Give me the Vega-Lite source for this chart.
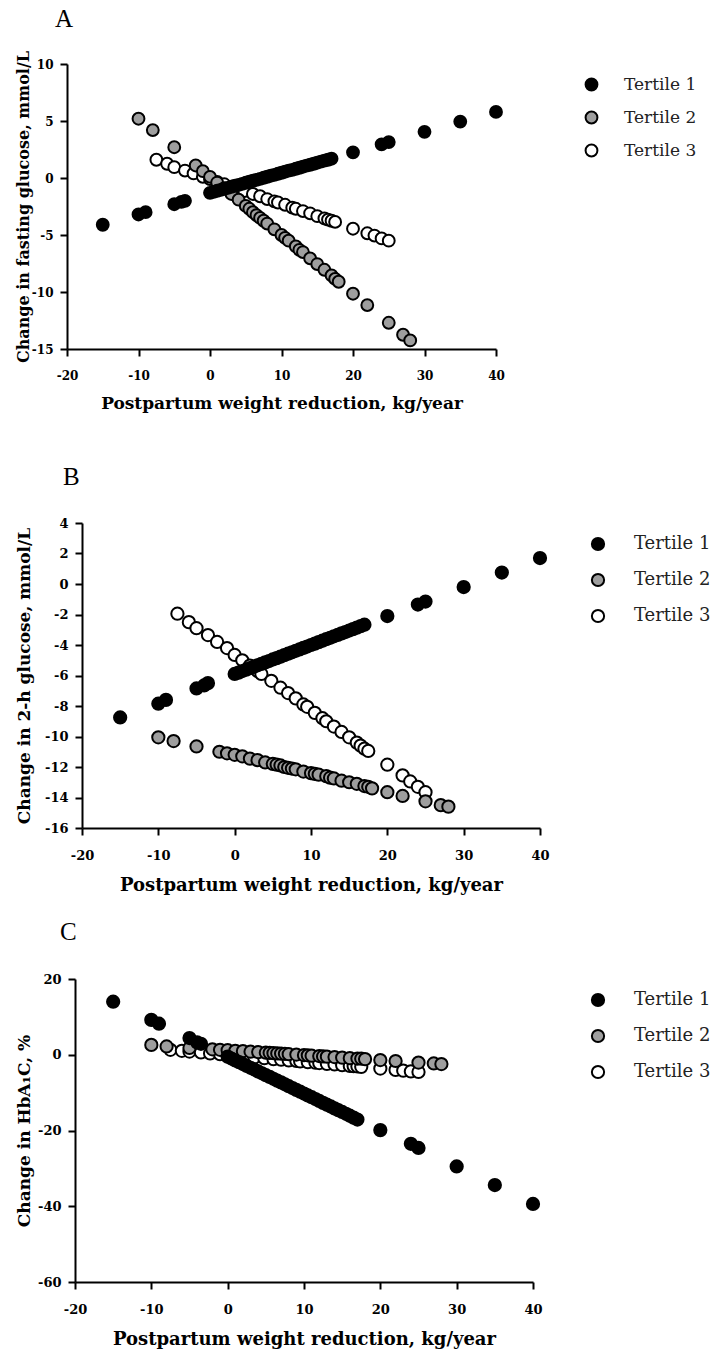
{
  "$schema": "https://vega.github.io/schema/vega-lite/v6.json",
  "padding": {"left": 5, "top": 7, "right": 5, "bottom": 5},
  "background": "white",
  "config": {
    "view": {"stroke": null},
    "font": "DejaVu Serif",
    "axis": {
      "grid": false,
      "domainColor": "black",
      "domainWidth": 2,
      "tickColor": "black",
      "tickWidth": 2,
      "tickSize": 7,
      "labelFont": "DejaVu Serif",
      "labelFontWeight": "bold",
      "labelColor": "black",
      "titleFont": "DejaVu Serif",
      "titleFontWeight": "bold",
      "titleColor": "black",
      "labelFlush": false,
      "labelExpr": "replace(datum.label, '−', '-')"
    },
    "title": {"font": "Liberation Serif", "fontWeight": "normal", "fontSize": 25, "color": "black", "anchor": "start", "frame": "group", "baseline": "alphabetic"}
  },
  "datasets": {
    "a": [
      {"t": "Tertile 3", "x": -7.5, "y": 1.6}, {"t": "Tertile 3", "x": -6, "y": 1.25}, {"t": "Tertile 3", "x": -5, "y": 0.95}, {"t": "Tertile 3", "x": -3.5, "y": 0.65}, {"t": "Tertile 3", "x": -2.3, "y": 0.4}, {"t": "Tertile 3", "x": -1, "y": 0.1}, {"t": "Tertile 3", "x": 0, "y": -0.1}, {"t": "Tertile 3", "x": 1, "y": -0.35}, {"t": "Tertile 3", "x": 2, "y": -0.55}, {"t": "Tertile 3", "x": 3, "y": -0.75}, {"t": "Tertile 3", "x": 3.5, "y": -0.85}, {"t": "Tertile 3", "x": 4.8, "y": -1.15}, {"t": "Tertile 3", "x": 6, "y": -1.4}, {"t": "Tertile 3", "x": 7, "y": -1.6}, {"t": "Tertile 3", "x": 8, "y": -1.85}, {"t": "Tertile 3", "x": 9, "y": -2.05}, {"t": "Tertile 3", "x": 9.5, "y": -2.15}, {"t": "Tertile 3", "x": 10.5, "y": -2.35}, {"t": "Tertile 3", "x": 11.5, "y": -2.6}, {"t": "Tertile 3", "x": 12, "y": -2.7}, {"t": "Tertile 3", "x": 13, "y": -2.9}, {"t": "Tertile 3", "x": 14, "y": -3.1}, {"t": "Tertile 3", "x": 15, "y": -3.35}, {"t": "Tertile 3", "x": 16, "y": -3.55}, {"t": "Tertile 3", "x": 16.5, "y": -3.65}, {"t": "Tertile 3", "x": 17, "y": -3.75}, {"t": "Tertile 3", "x": 17.5, "y": -3.85}, {"t": "Tertile 3", "x": 20, "y": -4.45}, {"t": "Tertile 3", "x": 22, "y": -4.85}, {"t": "Tertile 3", "x": 23, "y": -5.05}, {"t": "Tertile 3", "x": 24, "y": -5.3}, {"t": "Tertile 3", "x": 25, "y": -5.5},
      {"t": "Tertile 2", "x": -10, "y": 5.2}, {"t": "Tertile 2", "x": -8, "y": 4.2}, {"t": "Tertile 2", "x": -5, "y": 2.7}, {"t": "Tertile 2", "x": -2, "y": 1.1}, {"t": "Tertile 2", "x": -1, "y": 0.6}, {"t": "Tertile 2", "x": 0, "y": 0.1}, {"t": "Tertile 2", "x": 1, "y": -0.4}, {"t": "Tertile 2", "x": 2, "y": -0.9}, {"t": "Tertile 2", "x": 3, "y": -1.4}, {"t": "Tertile 2", "x": 4, "y": -1.9}, {"t": "Tertile 2", "x": 5, "y": -2.45}, {"t": "Tertile 2", "x": 5.5, "y": -2.7}, {"t": "Tertile 2", "x": 6, "y": -3.0}, {"t": "Tertile 2", "x": 6.5, "y": -3.25}, {"t": "Tertile 2", "x": 7, "y": -3.5}, {"t": "Tertile 2", "x": 7.5, "y": -3.75}, {"t": "Tertile 2", "x": 8, "y": -4.0}, {"t": "Tertile 2", "x": 9, "y": -4.5}, {"t": "Tertile 2", "x": 10, "y": -5.0}, {"t": "Tertile 2", "x": 10.5, "y": -5.25}, {"t": "Tertile 2", "x": 11, "y": -5.5}, {"t": "Tertile 2", "x": 12, "y": -6.0}, {"t": "Tertile 2", "x": 12.5, "y": -6.3}, {"t": "Tertile 2", "x": 13, "y": -6.5}, {"t": "Tertile 2", "x": 14, "y": -7.05}, {"t": "Tertile 2", "x": 15, "y": -7.55}, {"t": "Tertile 2", "x": 16, "y": -8.05}, {"t": "Tertile 2", "x": 17, "y": -8.55}, {"t": "Tertile 2", "x": 17.5, "y": -8.85}, {"t": "Tertile 2", "x": 18, "y": -9.1}, {"t": "Tertile 2", "x": 20, "y": -10.15}, {"t": "Tertile 2", "x": 22, "y": -11.15}, {"t": "Tertile 2", "x": 25, "y": -12.7}, {"t": "Tertile 2", "x": 27, "y": -13.75}, {"t": "Tertile 2", "x": 28, "y": -14.25},
      {"t": "Tertile 1", "x": -15, "y": -4.1}, {"t": "Tertile 1", "x": -10, "y": -3.2}, {"t": "Tertile 1", "x": -9, "y": -3.0}, {"t": "Tertile 1", "x": -5, "y": -2.3}, {"t": "Tertile 1", "x": -4, "y": -2.1}, {"t": "Tertile 1", "x": -3.5, "y": -2.0},
      {"t": "Tertile 1", "x": 0, "y": -1.3}, {"t": "Tertile 1", "x": 0.5, "y": -1.21}, {"t": "Tertile 1", "x": 1, "y": -1.12}, {"t": "Tertile 1", "x": 1.5, "y": -1.04}, {"t": "Tertile 1", "x": 2, "y": -0.95}, {"t": "Tertile 1", "x": 2.5, "y": -0.86}, {"t": "Tertile 1", "x": 3, "y": -0.77}, {"t": "Tertile 1", "x": 3.5, "y": -0.68}, {"t": "Tertile 1", "x": 4, "y": -0.6}, {"t": "Tertile 1", "x": 4.5, "y": -0.51}, {"t": "Tertile 1", "x": 5, "y": -0.42}, {"t": "Tertile 1", "x": 5.5, "y": -0.33}, {"t": "Tertile 1", "x": 6, "y": -0.24}, {"t": "Tertile 1", "x": 6.5, "y": -0.16}, {"t": "Tertile 1", "x": 7, "y": -0.07}, {"t": "Tertile 1", "x": 7.5, "y": 0.02}, {"t": "Tertile 1", "x": 8, "y": 0.11}, {"t": "Tertile 1", "x": 8.5, "y": 0.2}, {"t": "Tertile 1", "x": 9, "y": 0.28}, {"t": "Tertile 1", "x": 9.5, "y": 0.37}, {"t": "Tertile 1", "x": 10, "y": 0.46}, {"t": "Tertile 1", "x": 10.5, "y": 0.55}, {"t": "Tertile 1", "x": 11, "y": 0.64}, {"t": "Tertile 1", "x": 11.5, "y": 0.72}, {"t": "Tertile 1", "x": 12, "y": 0.81}, {"t": "Tertile 1", "x": 12.5, "y": 0.9}, {"t": "Tertile 1", "x": 13, "y": 0.99}, {"t": "Tertile 1", "x": 13.5, "y": 1.08}, {"t": "Tertile 1", "x": 14, "y": 1.16}, {"t": "Tertile 1", "x": 14.5, "y": 1.25}, {"t": "Tertile 1", "x": 15, "y": 1.34}, {"t": "Tertile 1", "x": 15.5, "y": 1.43}, {"t": "Tertile 1", "x": 16, "y": 1.52}, {"t": "Tertile 1", "x": 16.5, "y": 1.6}, {"t": "Tertile 1", "x": 17, "y": 1.69},
      {"t": "Tertile 1", "x": 20, "y": 2.25}, {"t": "Tertile 1", "x": 24, "y": 2.95}, {"t": "Tertile 1", "x": 25, "y": 3.15}, {"t": "Tertile 1", "x": 30, "y": 4.05}, {"t": "Tertile 1", "x": 35, "y": 4.95}, {"t": "Tertile 1", "x": 40, "y": 5.8}
    ],
    "b": [
      {"t": "Tertile 3", "x": -7.5, "y": -1.95}, {"t": "Tertile 3", "x": -6, "y": -2.5}, {"t": "Tertile 3", "x": -5, "y": -2.9}, {"t": "Tertile 3", "x": -3.5, "y": -3.35}, {"t": "Tertile 3", "x": -2.3, "y": -3.8}, {"t": "Tertile 3", "x": -1, "y": -4.2}, {"t": "Tertile 3", "x": 0, "y": -4.65}, {"t": "Tertile 3", "x": 1, "y": -5.0}, {"t": "Tertile 3", "x": 2, "y": -5.35}, {"t": "Tertile 3", "x": 3, "y": -5.7}, {"t": "Tertile 3", "x": 3.5, "y": -5.9}, {"t": "Tertile 3", "x": 4.8, "y": -6.35}, {"t": "Tertile 3", "x": 6, "y": -6.8}, {"t": "Tertile 3", "x": 7, "y": -7.15}, {"t": "Tertile 3", "x": 8, "y": -7.5}, {"t": "Tertile 3", "x": 9, "y": -7.9}, {"t": "Tertile 3", "x": 9.5, "y": -8.05}, {"t": "Tertile 3", "x": 10.5, "y": -8.45}, {"t": "Tertile 3", "x": 11.5, "y": -8.8}, {"t": "Tertile 3", "x": 12, "y": -9.0}, {"t": "Tertile 3", "x": 13, "y": -9.35}, {"t": "Tertile 3", "x": 14, "y": -9.7}, {"t": "Tertile 3", "x": 15, "y": -10.05}, {"t": "Tertile 3", "x": 16, "y": -10.4}, {"t": "Tertile 3", "x": 16.5, "y": -10.6}, {"t": "Tertile 3", "x": 17, "y": -10.8}, {"t": "Tertile 3", "x": 17.5, "y": -10.95}, {"t": "Tertile 3", "x": 20, "y": -11.85}, {"t": "Tertile 3", "x": 22, "y": -12.55}, {"t": "Tertile 3", "x": 23, "y": -12.95}, {"t": "Tertile 3", "x": 24, "y": -13.3}, {"t": "Tertile 3", "x": 25, "y": -13.65},
      {"t": "Tertile 2", "x": -10, "y": -10.05}, {"t": "Tertile 2", "x": -8, "y": -10.3}, {"t": "Tertile 2", "x": -5, "y": -10.65}, {"t": "Tertile 2", "x": -2, "y": -11.0}, {"t": "Tertile 2", "x": -1, "y": -11.1}, {"t": "Tertile 2", "x": 0, "y": -11.2}, {"t": "Tertile 2", "x": 1, "y": -11.3}, {"t": "Tertile 2", "x": 2, "y": -11.45}, {"t": "Tertile 2", "x": 3, "y": -11.55}, {"t": "Tertile 2", "x": 4, "y": -11.7}, {"t": "Tertile 2", "x": 5, "y": -11.8}, {"t": "Tertile 2", "x": 5.5, "y": -11.85}, {"t": "Tertile 2", "x": 6, "y": -11.9}, {"t": "Tertile 2", "x": 6.5, "y": -12.0}, {"t": "Tertile 2", "x": 7, "y": -12.05}, {"t": "Tertile 2", "x": 7.5, "y": -12.1}, {"t": "Tertile 2", "x": 8, "y": -12.15}, {"t": "Tertile 2", "x": 9, "y": -12.3}, {"t": "Tertile 2", "x": 10, "y": -12.4}, {"t": "Tertile 2", "x": 10.5, "y": -12.45}, {"t": "Tertile 2", "x": 11, "y": -12.5}, {"t": "Tertile 2", "x": 12, "y": -12.6}, {"t": "Tertile 2", "x": 12.5, "y": -12.7}, {"t": "Tertile 2", "x": 13, "y": -12.75}, {"t": "Tertile 2", "x": 14, "y": -12.9}, {"t": "Tertile 2", "x": 15, "y": -13.0}, {"t": "Tertile 2", "x": 16, "y": -13.1}, {"t": "Tertile 2", "x": 17, "y": -13.25}, {"t": "Tertile 2", "x": 17.5, "y": -13.3}, {"t": "Tertile 2", "x": 18, "y": -13.4}, {"t": "Tertile 2", "x": 20, "y": -13.65}, {"t": "Tertile 2", "x": 22, "y": -13.9}, {"t": "Tertile 2", "x": 25, "y": -14.25}, {"t": "Tertile 2", "x": 27, "y": -14.5}, {"t": "Tertile 2", "x": 28, "y": -14.6},
      {"t": "Tertile 1", "x": -15, "y": -8.75}, {"t": "Tertile 1", "x": -10, "y": -7.85}, {"t": "Tertile 1", "x": -9, "y": -7.6}, {"t": "Tertile 1", "x": -5, "y": -6.85}, {"t": "Tertile 1", "x": -4, "y": -6.65}, {"t": "Tertile 1", "x": -3.5, "y": -6.5},
      {"t": "Tertile 1", "x": 0, "y": -5.9}, {"t": "Tertile 1", "x": 0.5, "y": -5.81}, {"t": "Tertile 1", "x": 1, "y": -5.71}, {"t": "Tertile 1", "x": 1.5, "y": -5.62}, {"t": "Tertile 1", "x": 2, "y": -5.52}, {"t": "Tertile 1", "x": 2.5, "y": -5.43}, {"t": "Tertile 1", "x": 3, "y": -5.33}, {"t": "Tertile 1", "x": 3.5, "y": -5.24}, {"t": "Tertile 1", "x": 4, "y": -5.14}, {"t": "Tertile 1", "x": 4.5, "y": -5.05}, {"t": "Tertile 1", "x": 5, "y": -4.95}, {"t": "Tertile 1", "x": 5.5, "y": -4.86}, {"t": "Tertile 1", "x": 6, "y": -4.76}, {"t": "Tertile 1", "x": 6.5, "y": -4.67}, {"t": "Tertile 1", "x": 7, "y": -4.57}, {"t": "Tertile 1", "x": 7.5, "y": -4.48}, {"t": "Tertile 1", "x": 8, "y": -4.38}, {"t": "Tertile 1", "x": 8.5, "y": -4.29}, {"t": "Tertile 1", "x": 9, "y": -4.19}, {"t": "Tertile 1", "x": 9.5, "y": -4.1}, {"t": "Tertile 1", "x": 10, "y": -4.0}, {"t": "Tertile 1", "x": 10.5, "y": -3.91}, {"t": "Tertile 1", "x": 11, "y": -3.81}, {"t": "Tertile 1", "x": 11.5, "y": -3.72}, {"t": "Tertile 1", "x": 12, "y": -3.62}, {"t": "Tertile 1", "x": 12.5, "y": -3.53}, {"t": "Tertile 1", "x": 13, "y": -3.43}, {"t": "Tertile 1", "x": 13.5, "y": -3.34}, {"t": "Tertile 1", "x": 14, "y": -3.24}, {"t": "Tertile 1", "x": 14.5, "y": -3.15}, {"t": "Tertile 1", "x": 15, "y": -3.05}, {"t": "Tertile 1", "x": 15.5, "y": -2.96}, {"t": "Tertile 1", "x": 16, "y": -2.86}, {"t": "Tertile 1", "x": 16.5, "y": -2.77}, {"t": "Tertile 1", "x": 17, "y": -2.67},
      {"t": "Tertile 1", "x": 20, "y": -2.1}, {"t": "Tertile 1", "x": 24, "y": -1.35}, {"t": "Tertile 1", "x": 25, "y": -1.15}, {"t": "Tertile 1", "x": 30, "y": -0.2}, {"t": "Tertile 1", "x": 35, "y": 0.75}, {"t": "Tertile 1", "x": 40, "y": 1.7}
    ],
    "c": [
      {"t": "Tertile 3", "x": -7.5, "y": 1.3}, {"t": "Tertile 3", "x": -6, "y": 1.05}, {"t": "Tertile 3", "x": -5, "y": 0.85}, {"t": "Tertile 3", "x": -3.5, "y": 0.6}, {"t": "Tertile 3", "x": -2.3, "y": 0.35}, {"t": "Tertile 3", "x": -1, "y": 0.15}, {"t": "Tertile 3", "x": 0, "y": -0.05}, {"t": "Tertile 3", "x": 1, "y": -0.25}, {"t": "Tertile 3", "x": 2, "y": -0.4}, {"t": "Tertile 3", "x": 3, "y": -0.6}, {"t": "Tertile 3", "x": 3.5, "y": -0.7}, {"t": "Tertile 3", "x": 4.8, "y": -0.9}, {"t": "Tertile 3", "x": 6, "y": -1.15}, {"t": "Tertile 3", "x": 7, "y": -1.3}, {"t": "Tertile 3", "x": 8, "y": -1.5}, {"t": "Tertile 3", "x": 9, "y": -1.65}, {"t": "Tertile 3", "x": 9.5, "y": -1.75}, {"t": "Tertile 3", "x": 10.5, "y": -1.95}, {"t": "Tertile 3", "x": 11.5, "y": -2.1}, {"t": "Tertile 3", "x": 12, "y": -2.2}, {"t": "Tertile 3", "x": 13, "y": -2.4}, {"t": "Tertile 3", "x": 14, "y": -2.55}, {"t": "Tertile 3", "x": 15, "y": -2.75}, {"t": "Tertile 3", "x": 16, "y": -2.95}, {"t": "Tertile 3", "x": 16.5, "y": -3.0}, {"t": "Tertile 3", "x": 17, "y": -3.1}, {"t": "Tertile 3", "x": 17.5, "y": -3.2}, {"t": "Tertile 3", "x": 20, "y": -3.65}, {"t": "Tertile 3", "x": 22, "y": -4.0}, {"t": "Tertile 3", "x": 23, "y": -4.2}, {"t": "Tertile 3", "x": 24, "y": -4.4}, {"t": "Tertile 3", "x": 25, "y": -4.55},
      {"t": "Tertile 2", "x": -10, "y": 2.6}, {"t": "Tertile 2", "x": -8, "y": 2.2}, {"t": "Tertile 2", "x": -5, "y": 1.8}, {"t": "Tertile 2", "x": -2, "y": 1.45}, {"t": "Tertile 2", "x": -1, "y": 1.3}, {"t": "Tertile 2", "x": 0, "y": 1.2}, {"t": "Tertile 2", "x": 1, "y": 1.05}, {"t": "Tertile 2", "x": 2, "y": 0.95}, {"t": "Tertile 2", "x": 3, "y": 0.8}, {"t": "Tertile 2", "x": 4, "y": 0.7}, {"t": "Tertile 2", "x": 5, "y": 0.55}, {"t": "Tertile 2", "x": 5.5, "y": 0.5}, {"t": "Tertile 2", "x": 6, "y": 0.4}, {"t": "Tertile 2", "x": 6.5, "y": 0.35}, {"t": "Tertile 2", "x": 7, "y": 0.3}, {"t": "Tertile 2", "x": 7.5, "y": 0.25}, {"t": "Tertile 2", "x": 8, "y": 0.15}, {"t": "Tertile 2", "x": 9, "y": 0.05}, {"t": "Tertile 2", "x": 10, "y": -0.1}, {"t": "Tertile 2", "x": 10.5, "y": -0.15}, {"t": "Tertile 2", "x": 11, "y": -0.25}, {"t": "Tertile 2", "x": 12, "y": -0.35}, {"t": "Tertile 2", "x": 12.5, "y": -0.45}, {"t": "Tertile 2", "x": 13, "y": -0.5}, {"t": "Tertile 2", "x": 14, "y": -0.6}, {"t": "Tertile 2", "x": 15, "y": -0.75}, {"t": "Tertile 2", "x": 16, "y": -0.9}, {"t": "Tertile 2", "x": 17, "y": -1.0}, {"t": "Tertile 2", "x": 17.5, "y": -1.05}, {"t": "Tertile 2", "x": 18, "y": -1.15}, {"t": "Tertile 2", "x": 20, "y": -1.4}, {"t": "Tertile 2", "x": 22, "y": -1.65}, {"t": "Tertile 2", "x": 25, "y": -2.05}, {"t": "Tertile 2", "x": 27, "y": -2.3}, {"t": "Tertile 2", "x": 28, "y": -2.45},
      {"t": "Tertile 1", "x": -15, "y": 14.0}, {"t": "Tertile 1", "x": -10, "y": 9.2}, {"t": "Tertile 1", "x": -9, "y": 8.2}, {"t": "Tertile 1", "x": -5, "y": 4.4}, {"t": "Tertile 1", "x": -4, "y": 3.25}, {"t": "Tertile 1", "x": -3.5, "y": 2.9},
      {"t": "Tertile 1", "x": 0, "y": -0.5}, {"t": "Tertile 1", "x": 0.5, "y": -1.0}, {"t": "Tertile 1", "x": 1, "y": -1.5}, {"t": "Tertile 1", "x": 1.5, "y": -1.95}, {"t": "Tertile 1", "x": 2, "y": -2.45}, {"t": "Tertile 1", "x": 2.5, "y": -2.95}, {"t": "Tertile 1", "x": 3, "y": -3.45}, {"t": "Tertile 1", "x": 3.5, "y": -3.9}, {"t": "Tertile 1", "x": 4, "y": -4.4}, {"t": "Tertile 1", "x": 4.5, "y": -4.9}, {"t": "Tertile 1", "x": 5, "y": -5.4}, {"t": "Tertile 1", "x": 5.5, "y": -5.85}, {"t": "Tertile 1", "x": 6, "y": -6.35}, {"t": "Tertile 1", "x": 6.5, "y": -6.85}, {"t": "Tertile 1", "x": 7, "y": -7.3}, {"t": "Tertile 1", "x": 7.5, "y": -7.8}, {"t": "Tertile 1", "x": 8, "y": -8.3}, {"t": "Tertile 1", "x": 8.5, "y": -8.8}, {"t": "Tertile 1", "x": 9, "y": -9.3}, {"t": "Tertile 1", "x": 9.5, "y": -9.75}, {"t": "Tertile 1", "x": 10, "y": -10.25}, {"t": "Tertile 1", "x": 10.5, "y": -10.75}, {"t": "Tertile 1", "x": 11, "y": -11.2}, {"t": "Tertile 1", "x": 11.5, "y": -11.7}, {"t": "Tertile 1", "x": 12, "y": -12.2}, {"t": "Tertile 1", "x": 12.5, "y": -12.7}, {"t": "Tertile 1", "x": 13, "y": -13.2}, {"t": "Tertile 1", "x": 13.5, "y": -13.65}, {"t": "Tertile 1", "x": 14, "y": -14.15}, {"t": "Tertile 1", "x": 14.5, "y": -14.65}, {"t": "Tertile 1", "x": 15, "y": -15.1}, {"t": "Tertile 1", "x": 15.5, "y": -15.6}, {"t": "Tertile 1", "x": 16, "y": -16.1}, {"t": "Tertile 1", "x": 16.5, "y": -16.6}, {"t": "Tertile 1", "x": 17, "y": -17.1},
      {"t": "Tertile 1", "x": 20, "y": -19.9}, {"t": "Tertile 1", "x": 24, "y": -23.5}, {"t": "Tertile 1", "x": 25, "y": -24.6}, {"t": "Tertile 1", "x": 30, "y": -29.5}, {"t": "Tertile 1", "x": 35, "y": -34.4}, {"t": "Tertile 1", "x": 40, "y": -39.4}
    ]
  },
  "resolve": {"scale": {"x": "independent", "y": "independent", "fill": "independent"}, "legend": {"fill": "independent"}, "axis": {"x": "independent", "y": "independent"}},
  "spacing": 54,
  "vconcat": [
    {
      "spacing": 0,
      "resolve": {"scale": {"x": "independent", "y": "independent", "fill": "independent"}, "legend": {"fill": "independent"}},
      "hconcat": [
        {"width": 10, "height": 5, "data": {"values": []}, "mark": "point"},
        {
          "width": 429, "height": 285,
          "title": {"text": "A", "dx": -12, "offset": 18},
          "data": {"name": "a"},
          "mark": {"type": "point", "shape": "circle", "filled": true, "stroke": "black", "strokeWidth": 2, "size": 140, "opacity": 1, "fillOpacity": 1},
          "encoding": {
            "x": {"field": "x", "type": "quantitative", "scale": {"domain": [-20, 40], "nice": false, "zero": false},
                  "axis": {"title": "Postpartum weight reduction, kg/year", "values": [-20, -10, 0, 10, 20, 30, 40], "labelFontSize": 12, "labelPadding": 14, "titleFontSize": 17, "titlePadding": 14}},
            "y": {"field": "y", "type": "quantitative", "scale": {"domain": [-15, 10], "nice": false, "zero": false},
                  "axis": {"title": "Change in fasting glucose, mmol/L", "values": [-15, -10, -5, 0, 5, 10], "labelFontSize": 12, "labelPadding": 7, "titleFontSize": 16, "titlePadding": 0}},
            "fill": {"field": "t", "type": "nominal",
                     "scale": {"domain": ["Tertile 1", "Tertile 2", "Tertile 3"], "range": ["#000000", "#9e9e9e", "#ffffff"]},
                     "legend": {"title": null, "orient": "none", "legendX": 516, "legendY": 12, "symbolType": "circle", "symbolSize": 140, "symbolStrokeColor": "black", "symbolStrokeWidth": 2, "labelFont": "DejaVu Serif", "labelFontSize": 17, "labelColor": "#222222", "labelOffset": 24, "rowPadding": 12}}
          }
        }
      ]
    },
    {
      "spacing": 26,
      "resolve": {"scale": {"x": "independent", "y": "independent", "fill": "independent"}, "legend": {"fill": "independent"}},
      "vconcat": [
        {
          "spacing": 0,
          "resolve": {"scale": {"x": "independent", "y": "independent", "fill": "independent"}, "legend": {"fill": "independent"}},
          "hconcat": [
            {"width": 10, "height": 5, "data": {"values": []}, "mark": "point"},
            {
              "width": 458, "height": 305,
              "title": {"text": "B", "dx": -19, "offset": 27},
              "data": {"name": "b"},
              "mark": {"type": "point", "shape": "circle", "filled": true, "stroke": "black", "strokeWidth": 2, "size": 150, "opacity": 1, "fillOpacity": 1},
              "encoding": {
                "x": {"field": "x", "type": "quantitative", "scale": {"domain": [-20, 40], "nice": false, "zero": false},
                      "axis": {"title": "Postpartum weight reduction, kg/year", "values": [-20, -10, 0, 10, 20, 30, 40], "labelFontSize": 13, "labelPadding": 14, "titleFontSize": 18, "titlePadding": 14}},
                "y": {"field": "y", "type": "quantitative", "scale": {"domain": [-16, 4], "nice": false, "zero": false},
                      "axis": {"title": "Change in 2-h glucose, mmol/L", "values": [-16, -14, -12, -10, -8, -6, -4, -2, 0, 2, 4], "labelFontSize": 13, "labelPadding": 7, "titleFontSize": 17, "titlePadding": 11}},
                "fill": {"field": "t", "type": "nominal",
                         "scale": {"domain": ["Tertile 1", "Tertile 2", "Tertile 3"], "range": ["#000000", "#9e9e9e", "#ffffff"]},
                         "legend": {"title": null, "orient": "none", "legendX": 507, "legendY": 12, "symbolType": "circle", "symbolSize": 150, "symbolStrokeColor": "black", "symbolStrokeWidth": 2, "labelFont": "DejaVu Serif", "labelFontSize": 18, "labelColor": "#222222", "labelOffset": 27, "rowPadding": 14}}
              }
            }
          ]
        },
        {
          "spacing": 0,
          "resolve": {"scale": {"x": "independent", "y": "independent", "fill": "independent"}, "legend": {"fill": "independent"}},
          "hconcat": [
            {"width": 10, "height": 5, "data": {"values": []}, "mark": "point"},
            {
              "width": 458, "height": 303,
              "title": {"text": "C", "dx": -15, "offset": 28},
              "data": {"name": "c"},
              "mark": {"type": "point", "shape": "circle", "filled": true, "stroke": "black", "strokeWidth": 2, "size": 150, "opacity": 1, "fillOpacity": 1},
              "encoding": {
                "x": {"field": "x", "type": "quantitative", "scale": {"domain": [-20, 40], "nice": false, "zero": false},
                      "axis": {"title": "Postpartum weight reduction, kg/year", "values": [-20, -10, 0, 10, 20, 30, 40], "labelFontSize": 13, "labelPadding": 14, "titleFontSize": 18, "titlePadding": 14}},
                "y": {"field": "y", "type": "quantitative", "scale": {"domain": [-60, 20], "nice": false, "zero": false},
                      "axis": {"title": "Change in HbA₁C, %", "values": [-60, -40, -20, 0, 20], "labelFontSize": 13, "labelPadding": 7, "titleFontSize": 17, "titlePadding": 4}},
                "fill": {"field": "t", "type": "nominal",
                         "scale": {"domain": ["Tertile 1", "Tertile 2", "Tertile 3"], "range": ["#000000", "#9e9e9e", "#ffffff"]},
                         "legend": {"title": null, "orient": "none", "legendX": 514, "legendY": 12, "symbolType": "circle", "symbolSize": 150, "symbolStrokeColor": "black", "symbolStrokeWidth": 2, "labelFont": "DejaVu Serif", "labelFontSize": 18, "labelColor": "#222222", "labelOffset": 27, "rowPadding": 14}}
              }
            }
          ]
        }
      ]
    }
  ]
}
